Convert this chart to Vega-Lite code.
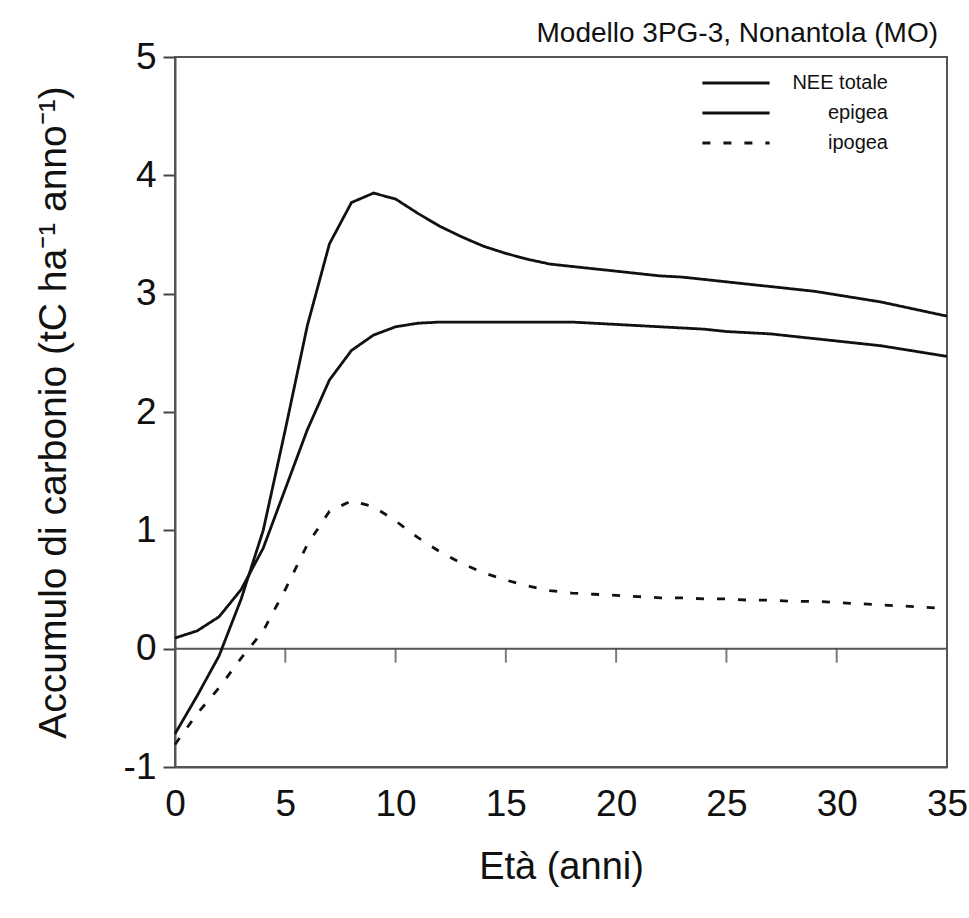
{
  "$schema": "https://vega.github.io/schema/vega-lite/v6.json",
  "autosize": {"type": "none"},
  "padding": {"left": 175, "top": 57, "right": 22, "bottom": 151},
  "width": 772,
  "height": 710,
  "background": "white",
  "title": {
    "text": "Modello 3PG-3, Nonantola (MO)",
    "anchor": "end",
    "frame": "group",
    "font": "Liberation Sans",
    "fontSize": 28,
    "fontWeight": "normal",
    "color": "#111",
    "baseline": "alphabetic",
    "offset": 0,
    "dy": 32,
    "dx": -9
  },
  "config": {
    "view": {"stroke": "#555", "strokeWidth": 2},
    "font": "Liberation Sans"
  },
  "datasets": {
    "series": [
      {"eta": 0, "valore": -0.72, "serie": "NEE totale"},
      {"eta": 1, "valore": -0.40, "serie": "NEE totale"},
      {"eta": 2, "valore": -0.06, "serie": "NEE totale"},
      {"eta": 3, "valore": 0.42, "serie": "NEE totale"},
      {"eta": 4, "valore": 1.0, "serie": "NEE totale"},
      {"eta": 5, "valore": 1.85, "serie": "NEE totale"},
      {"eta": 6, "valore": 2.73, "serie": "NEE totale"},
      {"eta": 7, "valore": 3.42, "serie": "NEE totale"},
      {"eta": 8, "valore": 3.77, "serie": "NEE totale"},
      {"eta": 9, "valore": 3.85, "serie": "NEE totale"},
      {"eta": 10, "valore": 3.8, "serie": "NEE totale"},
      {"eta": 11, "valore": 3.68, "serie": "NEE totale"},
      {"eta": 12, "valore": 3.57, "serie": "NEE totale"},
      {"eta": 13, "valore": 3.48, "serie": "NEE totale"},
      {"eta": 14, "valore": 3.4, "serie": "NEE totale"},
      {"eta": 15, "valore": 3.34, "serie": "NEE totale"},
      {"eta": 16, "valore": 3.29, "serie": "NEE totale"},
      {"eta": 17, "valore": 3.25, "serie": "NEE totale"},
      {"eta": 18, "valore": 3.23, "serie": "NEE totale"},
      {"eta": 19, "valore": 3.21, "serie": "NEE totale"},
      {"eta": 20, "valore": 3.19, "serie": "NEE totale"},
      {"eta": 21, "valore": 3.17, "serie": "NEE totale"},
      {"eta": 22, "valore": 3.15, "serie": "NEE totale"},
      {"eta": 23, "valore": 3.14, "serie": "NEE totale"},
      {"eta": 24, "valore": 3.12, "serie": "NEE totale"},
      {"eta": 25, "valore": 3.1, "serie": "NEE totale"},
      {"eta": 26, "valore": 3.08, "serie": "NEE totale"},
      {"eta": 27, "valore": 3.06, "serie": "NEE totale"},
      {"eta": 28, "valore": 3.04, "serie": "NEE totale"},
      {"eta": 29, "valore": 3.02, "serie": "NEE totale"},
      {"eta": 30, "valore": 2.99, "serie": "NEE totale"},
      {"eta": 31, "valore": 2.96, "serie": "NEE totale"},
      {"eta": 32, "valore": 2.93, "serie": "NEE totale"},
      {"eta": 33, "valore": 2.89, "serie": "NEE totale"},
      {"eta": 34, "valore": 2.85, "serie": "NEE totale"},
      {"eta": 35, "valore": 2.81, "serie": "NEE totale"},
      {"eta": 0, "valore": 0.09, "serie": "epigea"},
      {"eta": 1, "valore": 0.15, "serie": "epigea"},
      {"eta": 2, "valore": 0.27, "serie": "epigea"},
      {"eta": 3, "valore": 0.5, "serie": "epigea"},
      {"eta": 4, "valore": 0.85, "serie": "epigea"},
      {"eta": 5, "valore": 1.35, "serie": "epigea"},
      {"eta": 6, "valore": 1.85, "serie": "epigea"},
      {"eta": 7, "valore": 2.27, "serie": "epigea"},
      {"eta": 8, "valore": 2.52, "serie": "epigea"},
      {"eta": 9, "valore": 2.65, "serie": "epigea"},
      {"eta": 10, "valore": 2.72, "serie": "epigea"},
      {"eta": 11, "valore": 2.75, "serie": "epigea"},
      {"eta": 12, "valore": 2.76, "serie": "epigea"},
      {"eta": 13, "valore": 2.76, "serie": "epigea"},
      {"eta": 14, "valore": 2.76, "serie": "epigea"},
      {"eta": 15, "valore": 2.76, "serie": "epigea"},
      {"eta": 16, "valore": 2.76, "serie": "epigea"},
      {"eta": 17, "valore": 2.76, "serie": "epigea"},
      {"eta": 18, "valore": 2.76, "serie": "epigea"},
      {"eta": 19, "valore": 2.75, "serie": "epigea"},
      {"eta": 20, "valore": 2.74, "serie": "epigea"},
      {"eta": 21, "valore": 2.73, "serie": "epigea"},
      {"eta": 22, "valore": 2.72, "serie": "epigea"},
      {"eta": 23, "valore": 2.71, "serie": "epigea"},
      {"eta": 24, "valore": 2.7, "serie": "epigea"},
      {"eta": 25, "valore": 2.68, "serie": "epigea"},
      {"eta": 26, "valore": 2.67, "serie": "epigea"},
      {"eta": 27, "valore": 2.66, "serie": "epigea"},
      {"eta": 28, "valore": 2.64, "serie": "epigea"},
      {"eta": 29, "valore": 2.62, "serie": "epigea"},
      {"eta": 30, "valore": 2.6, "serie": "epigea"},
      {"eta": 31, "valore": 2.58, "serie": "epigea"},
      {"eta": 32, "valore": 2.56, "serie": "epigea"},
      {"eta": 33, "valore": 2.53, "serie": "epigea"},
      {"eta": 34, "valore": 2.5, "serie": "epigea"},
      {"eta": 35, "valore": 2.47, "serie": "epigea"},
      {"eta": 0, "valore": -0.81, "serie": "ipogea"},
      {"eta": 1, "valore": -0.55, "serie": "ipogea"},
      {"eta": 2, "valore": -0.33, "serie": "ipogea"},
      {"eta": 3, "valore": -0.08, "serie": "ipogea"},
      {"eta": 4, "valore": 0.15, "serie": "ipogea"},
      {"eta": 5, "valore": 0.5, "serie": "ipogea"},
      {"eta": 6, "valore": 0.88, "serie": "ipogea"},
      {"eta": 7, "valore": 1.16, "serie": "ipogea"},
      {"eta": 8, "valore": 1.25, "serie": "ipogea"},
      {"eta": 9, "valore": 1.2, "serie": "ipogea"},
      {"eta": 10, "valore": 1.08, "serie": "ipogea"},
      {"eta": 11, "valore": 0.94, "serie": "ipogea"},
      {"eta": 12, "valore": 0.82, "serie": "ipogea"},
      {"eta": 13, "valore": 0.72, "serie": "ipogea"},
      {"eta": 14, "valore": 0.64, "serie": "ipogea"},
      {"eta": 15, "valore": 0.58, "serie": "ipogea"},
      {"eta": 16, "valore": 0.53, "serie": "ipogea"},
      {"eta": 17, "valore": 0.49, "serie": "ipogea"},
      {"eta": 18, "valore": 0.47, "serie": "ipogea"},
      {"eta": 19, "valore": 0.46, "serie": "ipogea"},
      {"eta": 20, "valore": 0.45, "serie": "ipogea"},
      {"eta": 21, "valore": 0.44, "serie": "ipogea"},
      {"eta": 22, "valore": 0.43, "serie": "ipogea"},
      {"eta": 23, "valore": 0.43, "serie": "ipogea"},
      {"eta": 24, "valore": 0.42, "serie": "ipogea"},
      {"eta": 25, "valore": 0.42, "serie": "ipogea"},
      {"eta": 26, "valore": 0.41, "serie": "ipogea"},
      {"eta": 27, "valore": 0.41, "serie": "ipogea"},
      {"eta": 28, "valore": 0.4, "serie": "ipogea"},
      {"eta": 29, "valore": 0.4, "serie": "ipogea"},
      {"eta": 30, "valore": 0.39, "serie": "ipogea"},
      {"eta": 31, "valore": 0.38, "serie": "ipogea"},
      {"eta": 32, "valore": 0.37, "serie": "ipogea"},
      {"eta": 33, "valore": 0.36, "serie": "ipogea"},
      {"eta": 34, "valore": 0.35, "serie": "ipogea"},
      {"eta": 35, "valore": 0.34, "serie": "ipogea"}
    ],
    "zero": [{"valore": 0}],
    "xticks": [
      {"eta": 5, "valore": 0},
      {"eta": 10, "valore": 0},
      {"eta": 15, "valore": 0},
      {"eta": 20, "valore": 0},
      {"eta": 25, "valore": 0},
      {"eta": 30, "valore": 0}
    ]
  },
  "layer": [
    {
      "data": {"name": "zero"},
      "mark": {"type": "rule", "color": "#555", "strokeWidth": 2},
      "encoding": {
        "y": {"field": "valore", "type": "quantitative", "scale": {"domain": [-1, 5]}}
      }
    },
    {
      "data": {"name": "xticks"},
      "mark": {"type": "tick", "orient": "vertical", "size": 14, "thickness": 2, "yOffset": 7, "color": "#444"},
      "encoding": {
        "x": {"field": "eta", "type": "quantitative", "scale": {"domain": [0, 35]}},
        "y": {"field": "valore", "type": "quantitative"}
      }
    },
    {
      "data": {"name": "series"},
      "mark": {"type": "line", "strokeWidth": 2.8},
      "encoding": {
        "x": {
          "field": "eta",
          "type": "quantitative",
          "scale": {"domain": [0, 35], "nice": false, "zero": false},
          "axis": {
            "title": "Età (anni)",
            "values": [0, 5, 10, 15, 20, 25, 30, 35],
            "ticks": false,
            "grid": false,
            "domainColor": "#555",
            "domainWidth": 2,
            "labelFont": "Liberation Sans",
            "labelFontSize": 37,
            "labelColor": "#111",
            "labelPadding": 19,
            "labelFlush": false,
            "titleFont": "Liberation Sans",
            "titleFontSize": 38,
            "titleFontWeight": "normal",
            "titleColor": "#111",
            "titlePadding": 26
          }
        },
        "y": {
          "field": "valore",
          "type": "quantitative",
          "scale": {"domain": [-1, 5], "nice": false, "zero": false},
          "axis": {
            "title": "Accumulo di carbonio (tC ha⁻¹ anno⁻¹)",
            "values": [-1, 0, 1, 2, 3, 4, 5],
            "labelExpr": "'' + datum.value",
            "grid": false,
            "tickSize": 12,
            "tickWidth": 2,
            "tickColor": "#444",
            "domainColor": "#555",
            "domainWidth": 2,
            "labelFont": "Liberation Sans",
            "labelFontSize": 37,
            "labelColor": "#111",
            "labelPadding": 7,
            "labelFlush": false,
            "titleFont": "Liberation Sans",
            "titleFontSize": 39,
            "titleFontWeight": "normal",
            "titleColor": "#111",
            "titlePadding": 50
          }
        },
        "color": {
          "field": "serie",
          "type": "nominal",
          "scale": {"domain": ["NEE totale", "epigea", "ipogea"], "range": ["#111", "#111", "#111"]},
          "legend": {
            "title": null,
            "orient": "none",
            "legendX": 551,
            "legendY": 16,
            "padding": 0,
            "symbolType": "M-4.8,0H4.8",
            "symbolSize": 196,
            "symbolStrokeWidth": 2.8,
            "labelFont": "Liberation Sans",
            "labelFontSize": 20,
            "labelColor": "#111",
            "labelAlign": "right",
            "labelOffset": 142,
            "rowPadding": 10
          }
        },
        "strokeDash": {
          "field": "serie",
          "type": "nominal",
          "scale": {"domain": ["NEE totale", "epigea", "ipogea"], "range": [[1, 0], [1, 0], [8, 13]]},
          "legend": {
            "title": null,
            "orient": "none",
            "legendX": 551,
            "legendY": 16,
            "padding": 0,
            "symbolType": "M-4.8,0H4.8",
            "symbolSize": 196,
            "symbolStrokeWidth": 2.8,
            "labelFont": "Liberation Sans",
            "labelFontSize": 20,
            "labelColor": "#111",
            "labelAlign": "right",
            "labelOffset": 142,
            "rowPadding": 10
          }
        }
      }
    }
  ]
}
